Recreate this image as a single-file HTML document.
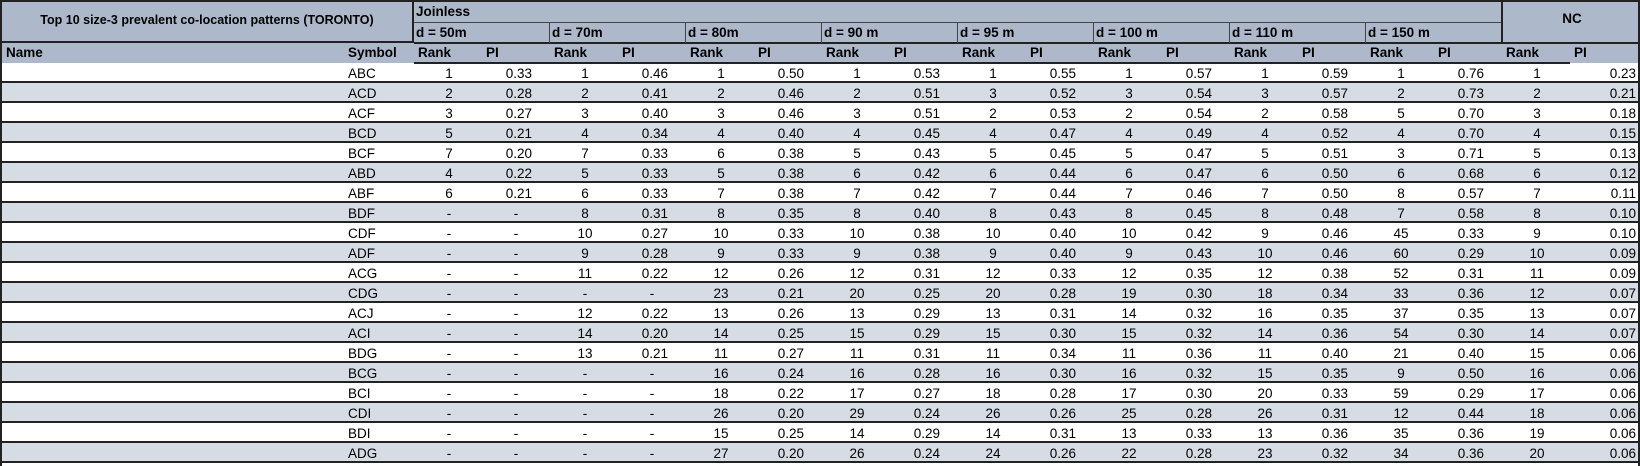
<!DOCTYPE html>
<html><head><meta charset="utf-8">
<style>
html,body{margin:0;padding:0;background:#fff;}
#t{position:relative;width:1640px;height:466px;overflow:hidden;font-family:"Liberation Sans",sans-serif;font-size:13.5px;color:#000;}
.c{position:absolute;white-space:nowrap;line-height:20px;}
.b{font-weight:bold;}
.box{position:absolute;box-sizing:border-box;}
</style></head><body>
<div id="t"></div>
<script>
const groupLabels=["d = 50m","d = 70m","d = 80m","d = 90 m","d = 95 m","d = 100 m","d = 110 m","d = 150 m","NC"];
const symbols=["ABC","ACD","ACF","BCD","BCF","ABD","ABF","BDF","CDF","ADF","ACG","CDG","ACJ","ACI","BDG","BCG","BCI","CDI","BDI","ADG"];
const ranks=[
[1,1,1,1,1,1,1,1,1],[2,2,2,2,3,3,3,2,2],[3,3,3,3,2,2,2,5,3],[5,4,4,4,4,4,4,4,4],
[7,7,6,5,5,5,5,3,5],[4,5,5,6,6,6,6,6,6],[6,6,7,7,7,7,7,8,7],["-",8,8,8,8,8,8,7,8],
["-",10,10,10,10,10,9,45,9],["-",9,9,9,9,9,10,60,10],["-",11,12,12,12,12,12,52,11],
["-","-",23,20,20,19,18,33,12],["-",12,13,13,13,14,16,37,13],["-",14,14,15,15,15,14,54,14],
["-",13,11,11,11,11,11,21,15],["-","-",16,16,16,16,15,9,16],["-","-",18,17,18,17,20,59,17],
["-","-",26,29,26,25,26,12,18],["-","-",15,14,14,13,13,35,19],["-","-",27,26,24,22,23,34,20]];
const pis=[
["0.33","0.46","0.50","0.53","0.55","0.57","0.59","0.76","0.23"],
["0.28","0.41","0.46","0.51","0.52","0.54","0.57","0.73","0.21"],
["0.27","0.40","0.46","0.51","0.53","0.54","0.58","0.70","0.18"],
["0.21","0.34","0.40","0.45","0.47","0.49","0.52","0.70","0.15"],
["0.20","0.33","0.38","0.43","0.45","0.47","0.51","0.71","0.13"],
["0.22","0.33","0.38","0.42","0.44","0.47","0.50","0.68","0.12"],
["0.21","0.33","0.38","0.42","0.44","0.46","0.50","0.57","0.11"],
["-","0.31","0.35","0.40","0.43","0.45","0.48","0.58","0.10"],
["-","0.27","0.33","0.38","0.40","0.42","0.46","0.33","0.10"],
["-","0.28","0.33","0.38","0.40","0.43","0.46","0.29","0.09"],
["-","0.22","0.26","0.31","0.33","0.35","0.38","0.31","0.09"],
["-","-","0.21","0.25","0.28","0.30","0.34","0.36","0.07"],
["-","0.22","0.26","0.29","0.31","0.32","0.35","0.35","0.07"],
["-","0.20","0.25","0.29","0.30","0.32","0.36","0.30","0.07"],
["-","0.21","0.27","0.31","0.34","0.36","0.40","0.40","0.06"],
["-","-","0.24","0.28","0.30","0.32","0.35","0.50","0.06"],
["-","-","0.22","0.27","0.28","0.30","0.33","0.29","0.06"],
["-","-","0.20","0.24","0.26","0.28","0.31","0.44","0.06"],
["-","-","0.25","0.29","0.31","0.33","0.36","0.36","0.06"],
["-","-","0.20","0.24","0.26","0.28","0.32","0.36","0.06"]];

const T=document.getElementById('t');
const G0=414,GW=136,ROW0=63,RH=20;
function gx(g){return G0+GW*g;}
function box(l,t,w,h,css,name){
  const d=document.createElement('div');d.className='box';
  d.style.cssText=`left:${l}px;top:${t}px;width:${w}px;height:${h}px;`+css;
  
  
  T.appendChild(d);return d;}
function txt(s,l,t,cls,name,align){
  const d=document.createElement('div');d.className='c '+(cls||'');d.textContent=s;
  if(align==='center'){d.style.left=(l-30)+'px';d.style.width='60px';d.style.textAlign='center';}
  else if(align==='right'){d.style.left=(l-60)+'px';d.style.width='60px';d.style.textAlign='right';}
  else d.style.left=l+'px';
  d.style.top=t+'px';
  
  
  T.appendChild(d);return d;}

box(0,0,1640,ROW0,'background:#adb9ca;','header-background');
for(let i=0;i<symbols.length;i++){
  const y=ROW0+i*RH;
  box(0,y,1640,RH,'background:'+(i%2?'#d6dce4':'#fff')+';border-bottom:2px solid #222;','data-row');
  txt(symbols[i],348,y+1,'','symbol-cell');
  for(let g=0;g<9;g++){
    const s=gx(g);
    const r=ranks[i][g];
    txt(String(r),s+35,y+1,'','rank-cell','center');
    const p=pis[i][g];
    if(p==='-') txt(p,s+102,y+1,'','pi-cell','center');
    else txt(p,g===8?1636:s+118,y+1,'','pi-cell','right');
  }
}
box(0,0,414,43,'border:2px solid #222;','title-box');
txt('Top 10 size-3 prevalent co-location patterns (TORONTO)',0,10,'b','table-title').style.cssText+='width:414px;text-align:center;font-size:12.5px;';
box(414,22,1088,1,'background:#444;','joinless-divider');
box(414,42,1226,2,'background:#222;','group-header-bottom');
box(414,62,1156,2,'background:#222;','column-header-bottom');
box(1501,0,2,44,'background:#222;','nc-divider');
box(0,0,1640,2,'background:#222;','top-border');
box(0,0,2,466,'background:#222;','left-border');
box(1638,0,2,466,'background:#222;','right-border');
txt('Joinless',416,2,'b','joinless-label');
txt('NC',1572,9,'b','nc-label','center');
for(let g=0;g<8;g++){
  const s=gx(g);
  if(g>0) box(s-1,22,1,21,'background:#444;','group-divider');
  txt(groupLabels[g],s+2,23,'b','group-label');
}
txt('Name',6,43,'b','name-header');
txt('Symbol',348,43,'b','symbol-header');
for(let g=0;g<9;g++){
  const s=gx(g);
  txt('Rank',s+4,43,'b','rank-header');
  txt('PI',s+72,43,'b','pi-header');
}
</script>
</body></html>
